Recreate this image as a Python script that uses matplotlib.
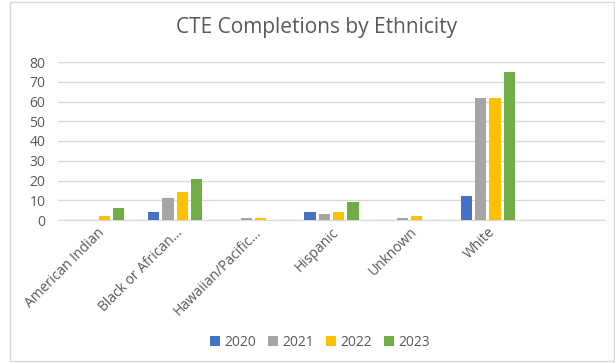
import matplotlib.pyplot as plt
import numpy as np

# data
categories = ["American Indian", "Black or African...", "Hawaiian/Pacific...",
              "Hispanic", "Unknown", "White", ""]
years = ["2020", "2021", "2022", "2023"]
v2020 = [0, 4, 0, 4, 0, 12, 0]
v2021 = [0, 11, 1, 3, 1, 62, 0]
v2022 = [2, 14, 1, 4, 2, 62, 0]
v2023 = [6, 21, 0, 9, 0, 75, 0]
colors = ["#4472C4", "#A5A5A5", "#FFC000", "#70AD47"]

plt.rcParams['font.family'] = ['Open Sans', 'DejaVu Sans']

fig = plt.figure(figsize=(6.15, 3.63), dpi=100)
W, H = 615, 363
ax = fig.add_axes([58 / W, 1 - 220 / H, 547 / W, (220 - 62) / H])

x = np.arange(len(categories))
step = 0.183
width = 0.145
for i, (vals, col, lab) in enumerate(zip([v2020, v2021, v2022, v2023], colors, years)):
    ax.bar(x + (i - 1.5) * step, vals, width, color=col, label=lab, zorder=3)

ax.set_xlim(-0.5, len(categories) - 0.5)
ax.set_ylim(0, 80)
ax.set_yticks(range(0, 81, 10))
ax.grid(axis='y', color='#D9D9D9', linewidth=1, zorder=0)
for s in ['top', 'right', 'left']:
    ax.spines[s].set_visible(False)
ax.spines['bottom'].set_color('#D9D9D9')
ax.tick_params(axis='both', length=0, colors='#595959', labelsize=10)
ax.tick_params(axis='y', pad=9)
ax.set_xticks(x)
ax.set_xticklabels(categories, rotation=45, ha='right', rotation_mode='anchor')

fig.text(317 / W, 1 - 27 / H, "CTE Completions by Ethnicity", ha='center', va='center',
         fontsize=15, color='#595959')

fig.legend(loc='center', bbox_to_anchor=(320 / W, 1 - 342 / H), ncol=4, frameon=False,
           fontsize=10, labelcolor='#595959', handlelength=0.7, handleheight=0.7,
           handletextpad=0.3, columnspacing=0.9)

# chart border
fig.add_artist(plt.Rectangle((10 / W, 2 / H), 1 - 11 / W, 1 - 4 / H, transform=fig.transFigure,
                             fill=False, edgecolor='#D9D9D9', linewidth=1))

fig.savefig('out.png', dpi=100)
